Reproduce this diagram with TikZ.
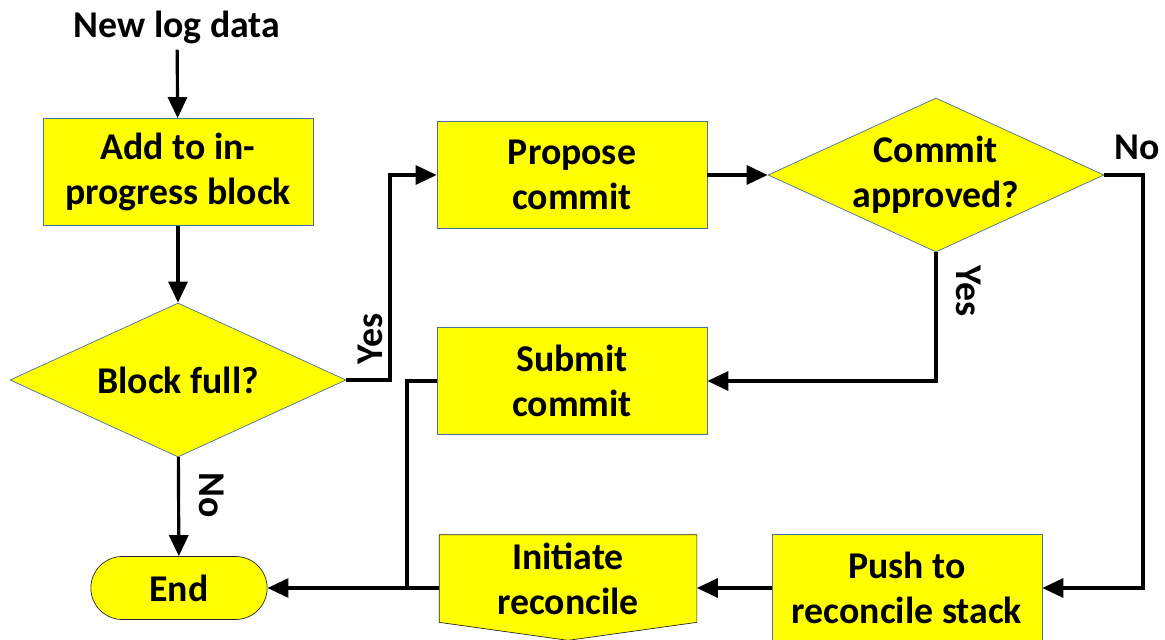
\documentclass[tikz,border=0pt]{standalone}
\usepackage{fontspec}
\setmainfont{Carlito}
\usetikzlibrary{arrows.meta, shapes.geometric, shapes.misc, backgrounds, calc}
\definecolor{flowyellow}{RGB}{255,255,0}
\definecolor{boxedge}{RGB}{75,110,165}
\definecolor{darkedge}{RGB}{40,40,40}

\begin{document}
\begin{tikzpicture}[
    font=\fontsize{21.5}{25.6}\selectfont\bfseries,
    box/.style={rectangle, draw=boxedge, fill=flowyellow, align=center, minimum width=5.4cm, minimum height=2.14cm},
    decision/.style={diamond, draw=boxedge, fill=flowyellow, align=center, inner xsep=0pt, inner ysep=-0.15cm, aspect=2.19, minimum width=6.72cm, minimum height=3.08cm},
    ending/.style={rounded rectangle, draw=darkedge, fill=flowyellow, minimum width=3.76cm, minimum height=1.26cm},
    arrow/.style={-{Triangle[length=0.42cm, width=0.38cm]}, line width=1.8pt},
    link/.style={line width=1.8pt},
    downtag/.style={rotate=-90, anchor=south, inner ysep=0.38cm}]
    \useasboundingbox (0,0) rectangle (23.30,-12.80);

    % nodes
    \node (newlog) at (3.54,-0.54) {New log data};
    \node[box] (add) at (3.56,-3.44) {Add to in-\\progress block};
    \node[decision] (block) at (3.56,-7.60) {Block full?};
    \node[ending] (end) at (3.58,-11.76) {End};
    \node[box] (propose) at (11.44,-3.50) {Propose\\commit};
    \node[decision] (approved) at (18.72,-3.50) {Commit\\approved?};
    \node[box] (submit) at (11.44,-7.62) {Submit\\commit};
    \node[align=center, minimum width=5.14cm, minimum height=1.74cm] (init) at (11.36,-11.57) {Initiate\\reconcile};
    \node[box] (push) at (18.14,-11.76) {Push to\\reconcile stack};
    \begin{scope}[on background layer]
        \draw[draw=darkedge, fill=flowyellow] (init.north west) -- (init.north east) -- (init.south east)
            -- ($(init.south)+(0,-0.36)$) -- (init.south west) -- cycle;
    \end{scope}

    % turning points
    \coordinate (yesturn) at (7.80,-7.60);
    \coordinate (noturn) at (22.86,-3.50);
    \coordinate (merge) at (8.14,-11.76);

    % arrows
    \draw[arrow] (newlog) -- (add);
    \draw[arrow] (add) -- (block);
    \draw[arrow] (block) -- node[pos=0.38, downtag] {No} (end);
    \draw[arrow] (block.east) -- (yesturn) |- node[pos=0.1, rotate=90, anchor=south] {Yes} (propose.west);
    \draw[arrow] (propose) -- (approved);
    \draw[arrow] (approved.south) |- node[pos=0.15, downtag] {Yes} (submit.east);
    \draw[arrow] (approved.east) -- (noturn) |- (push.east);
    \draw[arrow] (push.west) -- (push.west -| init.east);
    \draw[arrow] (init.west |- end.east) -- (end.east);
    \draw[link] (submit.west) -| (merge);

    % label
    \node (nolbl) at (22.74,-2.94) {No};
\end{tikzpicture}
\end{document}
